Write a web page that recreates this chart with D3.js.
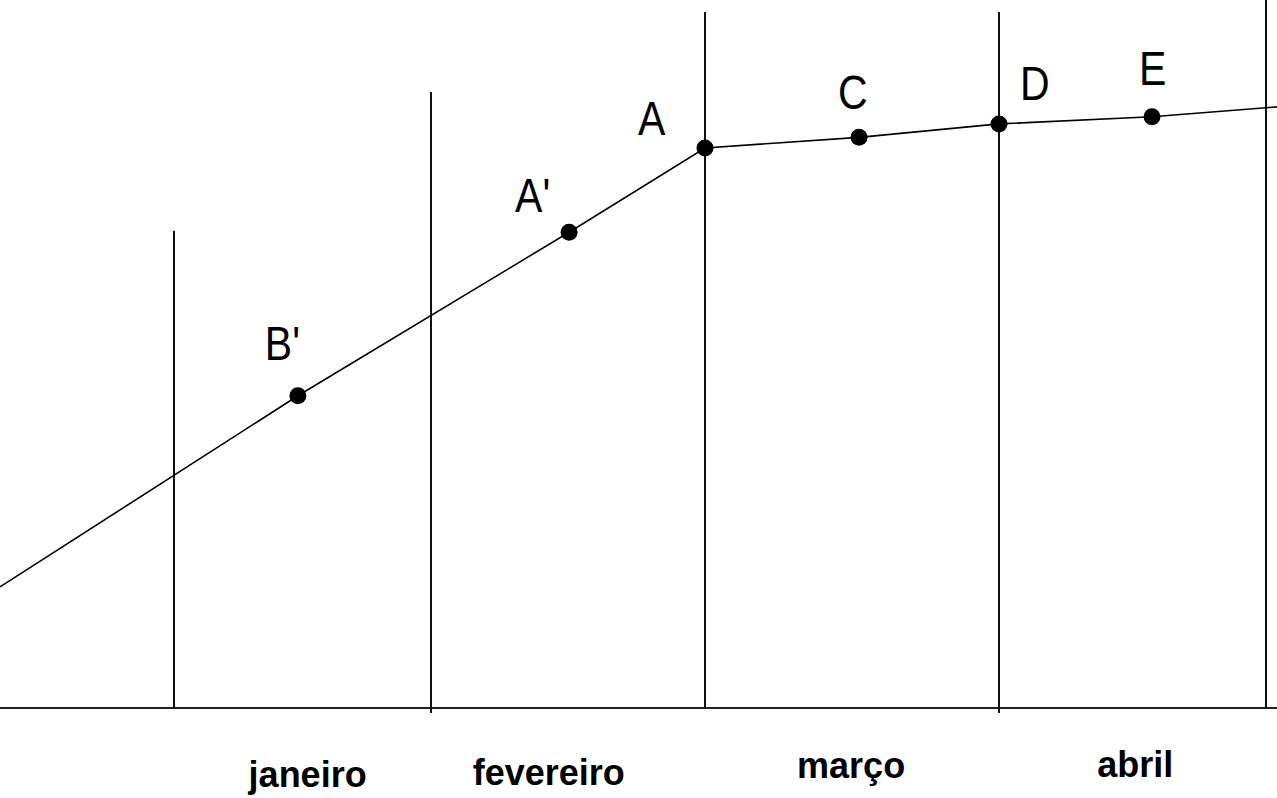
<!DOCTYPE html>
<html>
<head>
<meta charset="utf-8">
<script src="https://cdn.jsdelivr.net/npm/d3@7"></script>
<style>
  html, body { margin: 0; padding: 0; background: #fff; }
  svg { display: block; }
</style>
</head>
<body>
<script>
// month boundaries (in month units) and how high each divider goes
var boundaries = [0, 1, 2, 3, 4];
var boundaryTops = [67.4, 87.0, 98.3, 98.3, 100];
var boundaryBottoms = [0, -0.7, 0, -0.7, 0];

// months shown under the axis
var months = ["janeiro", "fevereiro", "março", "abril"];

// the curve
var curveX = [-0.677, 0.482, 1.504, 2.0, 2.524, 3.0, 3.573, 4.041];
var curveY = [17.1, 44.1, 67.2, 79.1, 80.6, 82.5, 83.5, 84.9];

// labelled points
var pointNames = ["B'", "A'", "A", "C", "D", "E"];
var pointX = [0.482, 1.504, 2.0, 2.524, 3.0, 3.573];
var pointY = [44.1, 67.2, 79.1, 80.6, 82.5, 83.5];

// layout only: where the texts sit relative to things
var labelOffsets = [[-33, -36], [-54, -20], [-67, -13], [-21, -28], [21, -24], [-13, -32]];
var monthLabelX = [0.52, 1.43, 2.497, 3.51];
var monthLabelY = [787, 785, 778, 777];

window.onload = function() {

  const width = 1277;
  const height = 798;

  var svg = d3.select("body").append("svg")
      .attr("width", width)
      .attr("height", height);

  // piecewise scale so the month dividers land where they are drawn
  var xScale = d3.scaleLinear()
      .domain(boundaries)
      .range([174, 431, 705, 999, 1266]);

  var yScale = d3.scaleLinear()
      .domain([0, 100])
      .range([708, 0]);

  // baseline
  svg.append("line")
      .attr("x1", 0)
      .attr("x2", width)
      .attr("y1", yScale(0))
      .attr("y2", yScale(0))
      .attr("stroke", "#222")
      .attr("stroke-width", 2);

  // month dividers
  svg.selectAll(".divider")
      .data(boundaries)
      .enter()
      .append("line")
      .attr("class", "divider")
      .attr("x1", function(d) { return xScale(d); })
      .attr("x2", function(d) { return xScale(d); })
      .attr("y1", function(d, i) { return yScale(boundaryBottoms[i]); })
      .attr("y2", function(d, i) { return yScale(boundaryTops[i]); })
      .attr("stroke", "#111")
      .attr("stroke-width", 2);

  // the curve
  var curve = curveX.map(function(x, i) { return [x, curveY[i]]; });
  var line = d3.line()
      .x(function(d) { return xScale(d[0]); })
      .y(function(d) { return yScale(d[1]); });

  svg.append("path")
      .datum(curve)
      .attr("d", line)
      .attr("fill", "none")
      .attr("stroke", "#000")
      .attr("stroke-width", 1.6);

  // dots
  var points = pointNames.map(function(name, i) {
      return {name: name, x: pointX[i], y: pointY[i], off: labelOffsets[i]};
  });

  svg.selectAll(".dot")
      .data(points)
      .enter()
      .append("circle")
      .attr("class", "dot")
      .attr("cx", function(d) { return xScale(d.x); })
      .attr("cy", function(d) { return yScale(d.y); })
      .attr("r", 8.5)
      .attr("fill", "#000");

  // point letters (they look stretched a bit vertically in the original)
  svg.selectAll(".plabel")
      .data(points)
      .enter()
      .append("text")
      .attr("class", "plabel")
      .attr("transform", function(d) {
          return "translate(" + (xScale(d.x) + d.off[0]) + "," + (yScale(d.y) + d.off[1]) + ") scale(1,1.18)";
      })
      .attr("font-family", "'Liberation Sans', Arial, sans-serif")
      .attr("font-size", "41px")
      .attr("fill", "#000")
      .text(function(d) { return d.name; });

  // month names
  svg.selectAll(".month")
      .data(months)
      .enter()
      .append("text")
      .attr("class", "month")
      .attr("x", function(d, i) { return xScale(monthLabelX[i]); })
      .attr("y", function(d, i) { return monthLabelY[i]; })
      .attr("text-anchor", "middle")
      .attr("font-family", "'Liberation Sans', Arial, sans-serif")
      .attr("font-weight", "bold")
      .attr("font-size", "36px")
      .attr("fill", "#000")
      .text(function(d) { return d; });
};
</script>
</body>
</html>
